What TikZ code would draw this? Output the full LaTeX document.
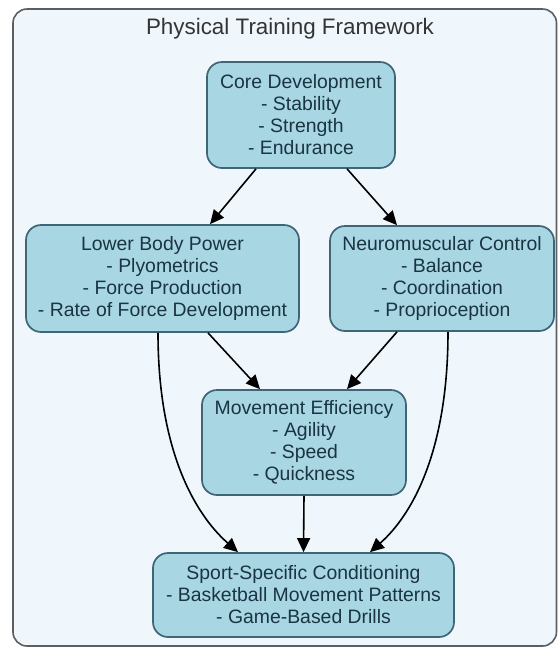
\documentclass[tikz,border=0pt]{standalone}
\usepackage{fontspec}
\setmainfont{Liberation Sans}
\usetikzlibrary{arrows.meta}

\definecolor{framefill}{HTML}{F0F7FC}
\definecolor{frameline}{HTML}{5E5E5E}
\definecolor{boxfill}{HTML}{A8D6E3}
\definecolor{boxline}{HTML}{3F6676}
\definecolor{boxtext}{HTML}{1A3442}

\tikzset{
  stage/.style={draw=boxline, fill=boxfill, line width=0.85pt, rounded corners=7.5pt,
    align=center, text=boxtext, inner sep=0pt, font=\fontsize{9.7}{11}\selectfont},
  link/.style={line width=0.8pt, -{Triangle[length=7pt,width=6.5pt]}}
}

\begin{document}
\begin{tikzpicture}[x=0.5pt,y=-0.5pt]
\useasboundingbox (0,0) rectangle (558,649);

% outer frame
\draw[draw=frameline, fill=framefill, line width=0.8pt, rounded corners=7pt] (13,9) rectangle (556.5,646);
\node[text=black!80, font=\fontsize{11.2}{13}\selectfont] (title) at (290,29) {Physical Training Framework};

% top box
\node[stage, minimum width=94pt, minimum height=53pt] (core) at (301,115)
  {Core Development\\- Stability\\- Strength\\- Endurance};

% middle row
\node[stage, minimum width=136.5pt, minimum height=53.5pt] (lower) at (162.5,278.5)
  {Lower Body Power\\- Plyometrics\\- Force Production\\- Rate of Force Development};
\node[stage, minimum width=112pt, minimum height=52.5pt] (neuro) at (442,278.5)
  {Neuromuscular Control\\- Balance\\- Coordination\\- Proprioception};

% lower boxes
\node[stage, minimum width=102pt, minimum height=52.5pt] (move) at (304,442.5)
  {Movement Efficiency\\- Agility\\- Speed\\- Quickness};
\node[stage, minimum width=150.5pt, minimum height=42pt] (sport) at (303.5,595)
  {Sport-Specific Conditioning\\- Basketball Movement Patterns\\- Game-Based Drills};

% arrows
\draw[link] ([xshift=-22.5pt]core.south) -- ([xshift=23.75pt]lower.north);
\draw[link] ([xshift=23pt]core.south) -- ([xshift=-22.5pt]neuro.north);
\draw[link] ([xshift=22.75pt]lower.south) -- ([xshift=-22pt]move.north);
\draw[link] ([xshift=-22.5pt]neuro.south) -- ([xshift=21.5pt]move.north);
\draw[link] (move.south) -- (sport.north);

% curved arrows
\draw[link] ([xshift=-2.25pt]lower.south) .. controls +(0,118) and +(-43,-38) .. ([xshift=-32.75pt]sport.north);
\draw[link] ([xshift=3pt]neuro.south) .. controls +(0,118) and +(43,-38) .. ([xshift=33.25pt]sport.north);

\end{tikzpicture}
\end{document}
